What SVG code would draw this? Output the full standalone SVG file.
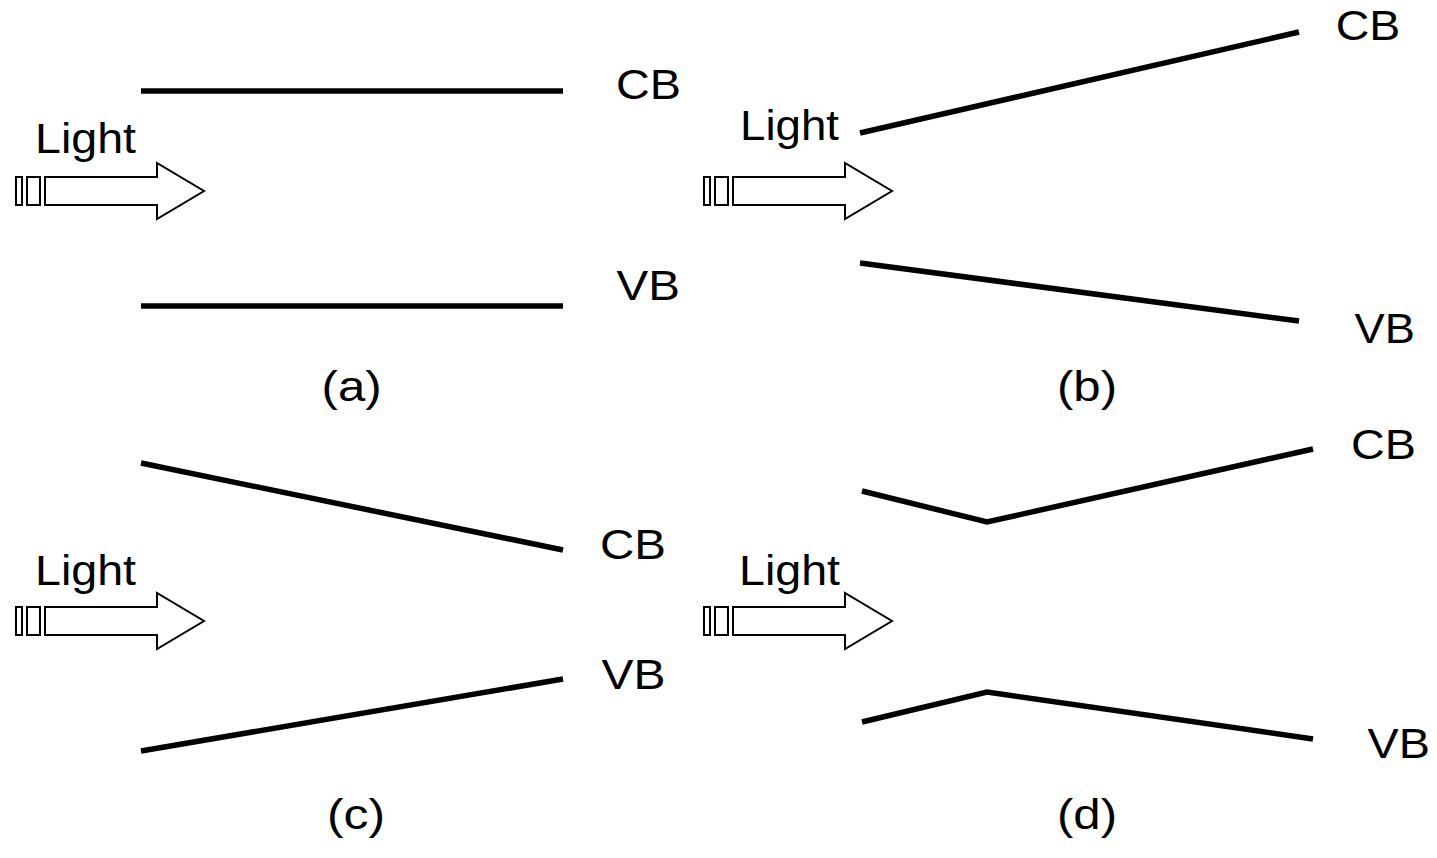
<svg xmlns="http://www.w3.org/2000/svg" width="1437" height="858" viewBox="0 0 1437 858">
<style>
.band{stroke:#000;stroke-width:5.5;fill:none;stroke-linejoin:miter}
.arr{fill:#fff;stroke:#000;stroke-width:2}
text{font-family:"Liberation Sans",Arial,sans-serif;fill:#000}
.lb{font-size:43px}
.lt{font-size:42px}
</style>
<defs>
<g id="light">
<rect x="16" y="177" width="6" height="28" class="arr"/>
<rect x="27" y="177" width="13" height="28" class="arr"/>
<polygon points="45,177 157,177 157,163 204,191 157,219 157,205 45,205" class="arr"/>
</g>
</defs>
<rect width="1437" height="858" fill="#fff"/>
<g id="connectors">
<line class="band" x1="141" y1="91" x2="563" y2="91"/>
<line class="band" x1="141" y1="306" x2="563" y2="306"/>
<line class="band" x1="860" y1="133" x2="1299" y2="32"/>
<line class="band" x1="860" y1="263" x2="1299" y2="321"/>
<line class="band" x1="141" y1="463" x2="563" y2="550"/>
<line class="band" x1="141" y1="751" x2="563" y2="679"/>
<polyline class="band" points="862,491 987,522 1313,449"/>
<polyline class="band" points="862,722 987,692 1313,739"/>
</g>
<g id="panel-a">
<use href="#light"/>
<text class="lt" x="35" y="153" textLength="101" lengthAdjust="spacingAndGlyphs">Light</text>
<text class="lb" x="616" y="99" textLength="65" lengthAdjust="spacingAndGlyphs">CB</text>
<text class="lb" x="616.5" y="300" textLength="63.5" lengthAdjust="spacingAndGlyphs">VB</text>
<text class="lb" x="321.6" y="401" textLength="60" lengthAdjust="spacingAndGlyphs">(a)</text>
</g>
<g id="panel-b">
<use href="#light" transform="translate(688,0)"/>
<text class="lt" x="740" y="140" textLength="99" lengthAdjust="spacingAndGlyphs">Light</text>
<text class="lb" x="1335.7" y="40" textLength="64.6" lengthAdjust="spacingAndGlyphs">CB</text>
<text class="lb" x="1354.5" y="343" textLength="60.4" lengthAdjust="spacingAndGlyphs">VB</text>
<text class="lb" x="1057" y="401" textLength="60" lengthAdjust="spacingAndGlyphs">(b)</text>
</g>
<g id="panel-c">
<use href="#light" transform="translate(0,430)"/>
<text class="lt" x="35" y="585" textLength="101" lengthAdjust="spacingAndGlyphs">Light</text>
<text class="lb" x="600" y="559" textLength="66" lengthAdjust="spacingAndGlyphs">CB</text>
<text class="lb" x="601.5" y="689" textLength="64" lengthAdjust="spacingAndGlyphs">VB</text>
<text class="lb" x="327" y="829" textLength="58" lengthAdjust="spacingAndGlyphs">(c)</text>
</g>
<g id="panel-d">
<use href="#light" transform="translate(688,430)"/>
<text class="lt" x="739" y="585" textLength="101" lengthAdjust="spacingAndGlyphs">Light</text>
<text class="lb" x="1351" y="459" textLength="65" lengthAdjust="spacingAndGlyphs">CB</text>
<text class="lb" x="1367.5" y="758" textLength="62.5" lengthAdjust="spacingAndGlyphs">VB</text>
<text class="lb" x="1057" y="829" textLength="60" lengthAdjust="spacingAndGlyphs">(d)</text>
</g>
</svg>
